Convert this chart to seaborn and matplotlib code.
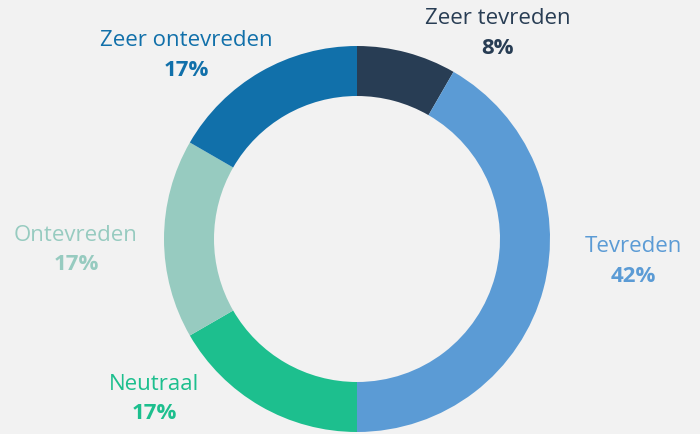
import matplotlib
matplotlib.use("Agg")
import matplotlib.pyplot as plt
import seaborn as sns

categories = ["Zeer tevreden", "Tevreden", "Neutraal", "Ontevreden", "Zeer ontevreden"]
counts = [1, 5, 2, 2, 2]
pct_labels = ["8%", "42%", "17%", "17%", "17%"]
colors = ["#283d54", "#5b9bd5", "#1dbf8e", "#97cbc0", "#1170aa"]

# label anchor positions in pixel space (x, y from top)
label_pos = [(498, 19), (633, 247), (154, 385), (76, 236), (186, 41)]

sns.set_theme(style="white")
plt.rcParams["font.family"] = ["Open Sans", "DejaVu Sans"]

fig = plt.figure(figsize=(7, 4.35), dpi=100)
fig.patch.set_facecolor("#f2f2f2")
ax = fig.add_axes([0, 0, 1, 1])
ax.set_facecolor("#f2f2f2")
ax.axis("off")

H = 435
ax.pie(counts, colors=colors, startangle=90, counterclock=False,
       center=(357, H - 240), radius=193,
       wedgeprops=dict(width=50, linewidth=0))
ax.set_xlim(0, 700)
ax.set_ylim(0, 435)
ax.set_aspect("equal")

for cat, pct, col, (x, y) in zip(categories, pct_labels, colors, label_pos):
    ax.text(x, H - y, cat, color=col, fontsize=16, ha="center", va="center")
    ax.text(x, H - y - 29, pct, color=col, fontsize=16, fontweight="bold",
            ha="center", va="center")

fig.savefig("out.png", dpi=100, facecolor=fig.get_facecolor())
